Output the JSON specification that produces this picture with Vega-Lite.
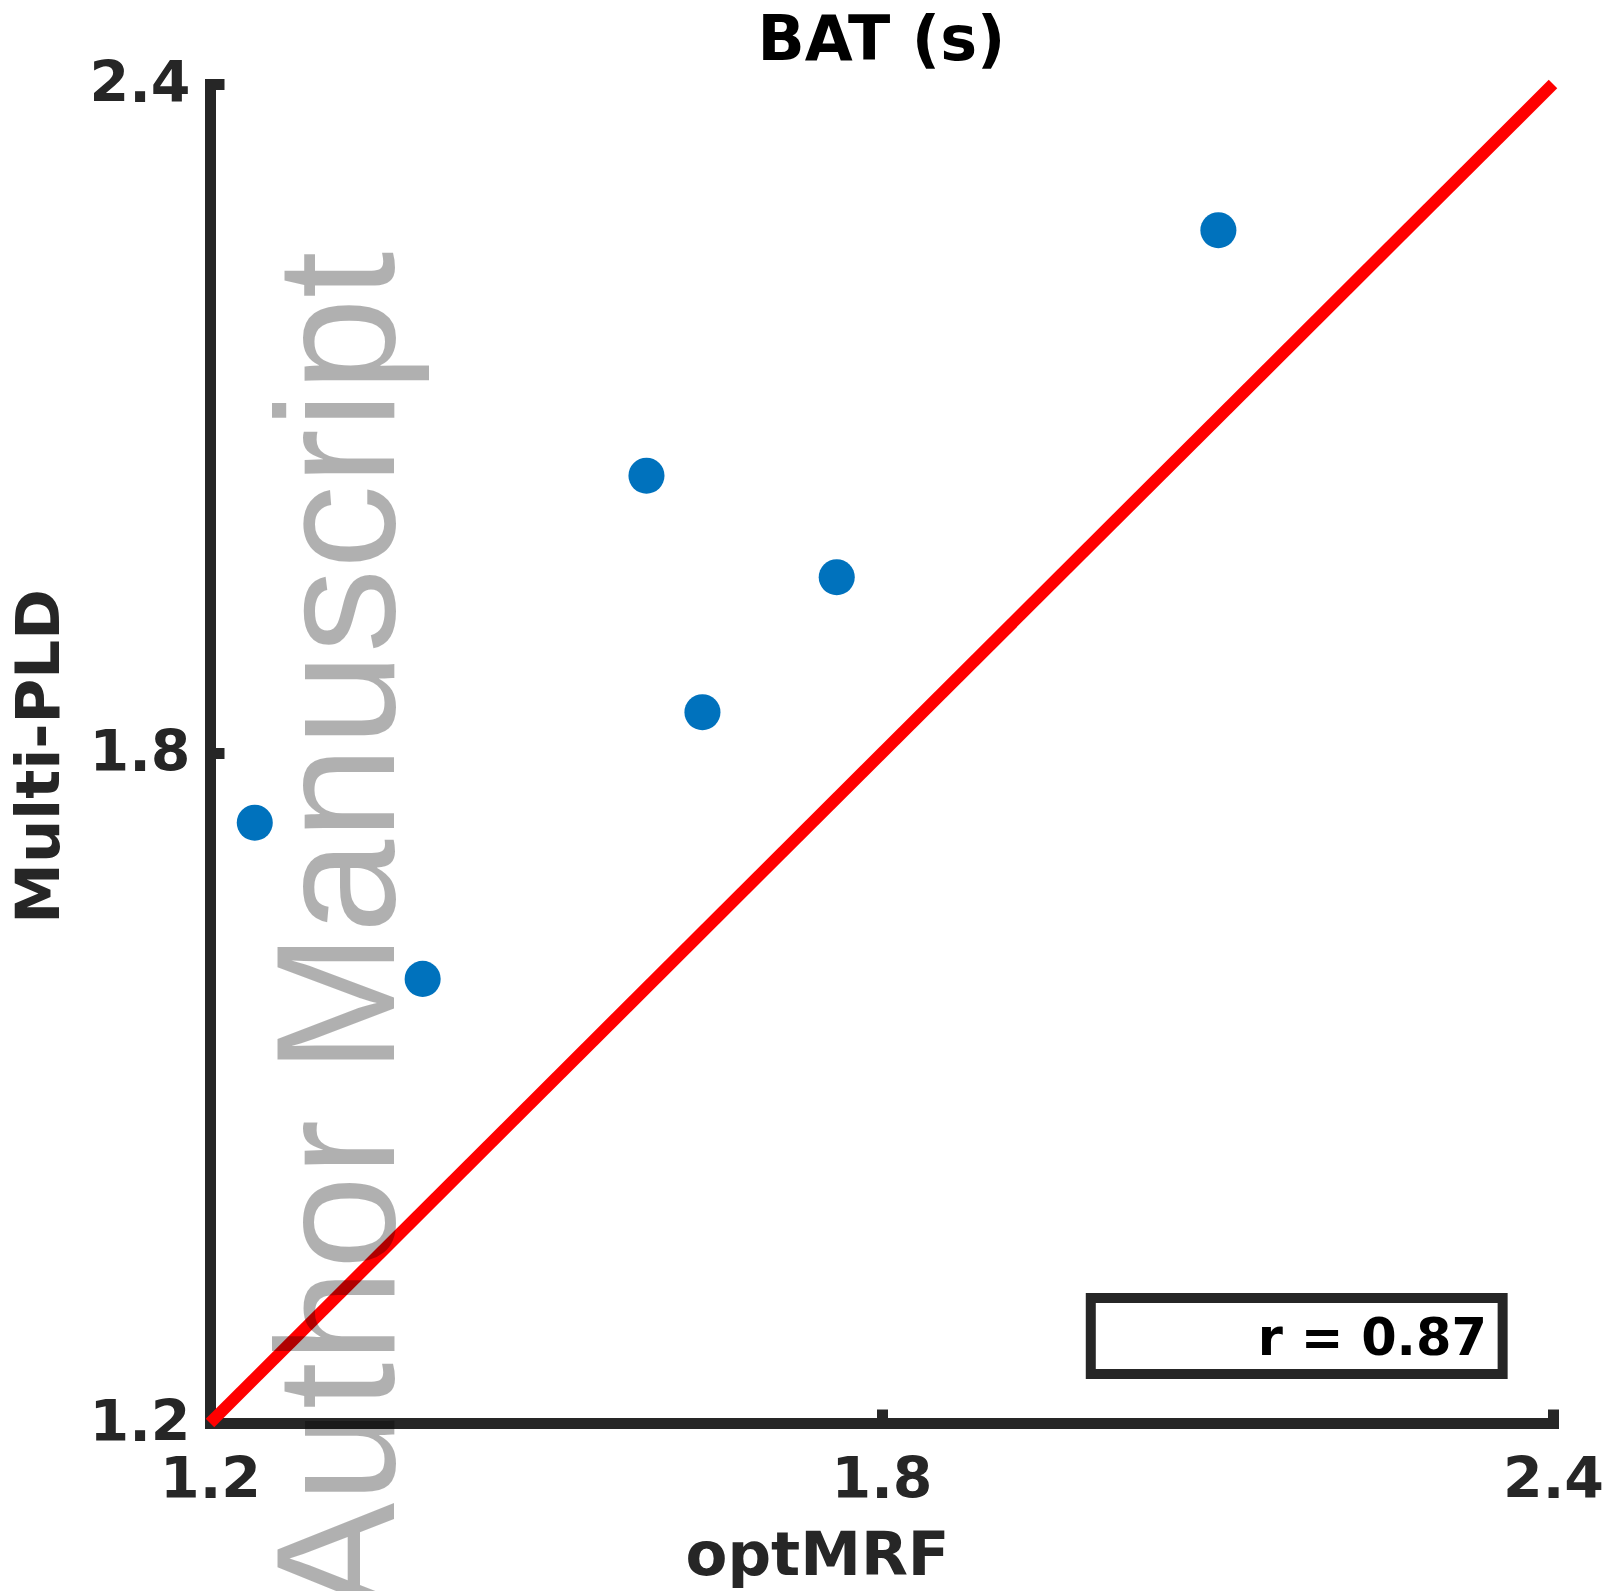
{
  "$schema": "https://vega.github.io/schema/vega-lite/v6.json",
  "width": 1343,
  "height": 1339,
  "autosize": {"type": "none"},
  "padding": {"left": 210, "top": 84, "right": 51, "bottom": 168},
  "background": "white",
  "title": {
    "text": "BAT (s)",
    "font": "DejaVu Sans",
    "fontWeight": "bold",
    "fontSize": 62,
    "color": "#000000",
    "anchor": "middle",
    "dy": 22
  },
  "config": {"view": {"stroke": null}},
  "encoding": {
    "x": {
      "field": "optMRF",
      "type": "quantitative",
      "scale": {"domain": [1.2, 2.4], "nice": false, "zero": false},
      "axis": {
        "title": "optMRF",
        "values": [1.2, 1.8, 2.4],
        "format": ".1f",
        "grid": false,
        "domainColor": "#262626",
        "domainWidth": 11,
        "domainCap": "square",
        "tickColor": "#262626",
        "tickWidth": 11,
        "tickSize": -14,
        "tickCap": "butt",
        "labelFont": "DejaVu Sans",
        "labelFontWeight": "bold",
        "labelFontSize": 57,
        "labelColor": "#262626",
        "labelPadding": 43,
        "labelOverlap": false,
        "labelFlush": false,
        "labelBound": false,
        "titleFont": "DejaVu Sans",
        "titleFontWeight": "bold",
        "titleFontSize": 61,
        "titleColor": "#262626",
        "titleBaseline": "alphabetic",
        "titleAlign": "center",
        "titleX": 607,
        "titleY": 151
      }
    },
    "y": {
      "field": "multiPLD",
      "type": "quantitative",
      "scale": {"domain": [1.2, 2.4], "nice": false, "zero": false},
      "axis": {
        "title": "Multi-PLD",
        "values": [1.2, 1.8, 2.4],
        "format": ".1f",
        "grid": false,
        "domainColor": "#262626",
        "domainWidth": 11,
        "domainCap": "square",
        "tickColor": "#262626",
        "tickWidth": 11,
        "tickSize": -14,
        "tickCap": "butt",
        "labelFont": "DejaVu Sans",
        "labelFontWeight": "bold",
        "labelFontSize": 57,
        "labelColor": "#262626",
        "labelPadding": 34,
        "labelOverlap": false,
        "labelFlush": false,
        "labelBound": false,
        "titleFont": "DejaVu Sans",
        "titleFontWeight": "bold",
        "titleFontSize": 61,
        "titleColor": "#262626",
        "titleBaseline": "alphabetic",
        "titleAlign": "center",
        "titleAngle": 270,
        "titleX": -152,
        "titleY": 672
      }
    }
  },
  "layer": [
    {
      "data": {"values": [
        {"optMRF": 1.2, "multiPLD": 1.2},
        {"optMRF": 2.4, "multiPLD": 2.4}
      ]},
      "mark": {"type": "line", "color": "#FF0000", "strokeWidth": 12, "clip": false}
    },
    {
      "data": {"values": [
        {"optMRF": 1.240, "multiPLD": 1.738},
        {"optMRF": 1.390, "multiPLD": 1.598},
        {"optMRF": 1.590, "multiPLD": 2.049},
        {"optMRF": 1.640, "multiPLD": 1.837},
        {"optMRF": 1.760, "multiPLD": 1.958},
        {"optMRF": 2.101, "multiPLD": 2.269}
      ]},
      "mark": {"type": "circle", "size": 1300, "color": "#0072BD", "opacity": 1}
    },
    {
      "data": {"values": [
        {"optMRF": 1.987, "optMRF_end": 2.355, "multiPLD": 1.244, "multiPLD_end": 1.312}
      ]},
      "mark": {"type": "rect", "fill": "white", "stroke": "#262626", "strokeWidth": 10},
      "encoding": {
        "x2": {"field": "optMRF_end"},
        "y2": {"field": "multiPLD_end"}
      }
    },
    {
      "data": {"values": [
        {"optMRF": 2.341, "multiPLD": 1.261, "label": "r = 0.87"}
      ]},
      "mark": {"type": "text", "align": "right", "baseline": "alphabetic", "font": "DejaVu Sans", "fontWeight": "bold", "fontSize": 51, "color": "#000000"},
      "encoding": {"text": {"field": "label"}}
    },
    {
      "data": {"values": [
        {"optMRF": 1.364, "multiPLD": 1.639, "label": "Author Manuscript"}
      ]},
      "mark": {"type": "text", "align": "center", "baseline": "alphabetic", "angle": 270, "font": "Liberation Sans", "fontSize": 168, "fill": "#000000", "fillOpacity": 0.31},
      "encoding": {"text": {"field": "label"}}
    }
  ]
}
